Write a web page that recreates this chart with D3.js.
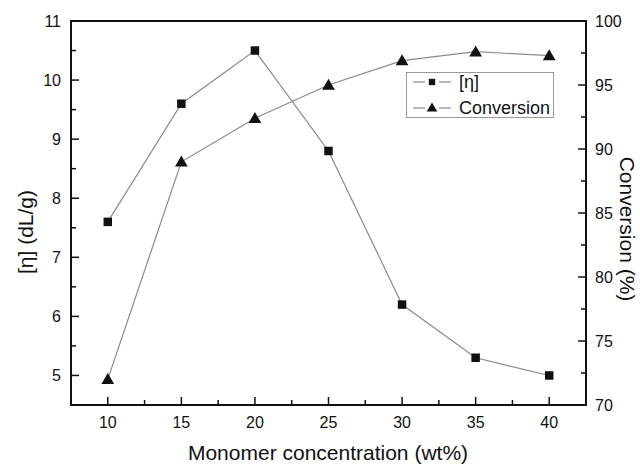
<!DOCTYPE html>
<html>
<head>
<meta charset="utf-8">
<script src="https://cdn.jsdelivr.net/npm/d3@7"></script>
<style>
  html, body { margin: 0; padding: 0; background: #fff; }
  svg { display: block; font-family: "Liberation Sans", Arial, sans-serif; }
</style>
</head>
<body>
<svg id="chart" width="640" height="464"></svg>
<script>
// Monomer concentration (wt%)
const concentrations = [10, 15, 20, 25, 30, 35, 40];
// Intrinsic viscosity [η] (dL/g)
const viscosity = [7.6, 9.6, 10.5, 8.8, 6.2, 5.3, 5.0];
// Conversion (%)
const conversion = [72.0, 89.0, 92.4, 95.0, 96.9, 97.6, 97.3];

const xTicks = [10, 15, 20, 25, 30, 35, 40];
const leftTicks = [5, 6, 7, 8, 9, 10, 11];
const rightTicks = [70, 75, 80, 85, 90, 95, 100];

const svg = d3.select("#chart");
const L = 71, R = 586, T = 21, B = 405;

const x = d3.scaleLinear().domain([7.5, 42.5]).range([L, R]);
const yL = d3.scaleLinear().domain([4.5, 11]).range([B, T]);
const yR = d3.scaleLinear().domain([70, 100]).range([B, T]);

const ink = "#111";
const lineGray = "#8a8a8a";

// ticks (inward), major + minor
const tickG = svg.append("g").attr("stroke", ink).attr("stroke-width", 1.5);
const xMinor = d3.range(12.5, 42.5, 5);
xTicks.forEach(v => tickG.append("line").attr("x1", x(v)).attr("x2", x(v)).attr("y1", B).attr("y2", B - 8));
xMinor.forEach(v => tickG.append("line").attr("x1", x(v)).attr("x2", x(v)).attr("y1", B).attr("y2", B - 5));
const lMinor = d3.range(5.5, 11, 1);
leftTicks.forEach(v => tickG.append("line").attr("x1", L).attr("x2", L + 8).attr("y1", yL(v)).attr("y2", yL(v)));
lMinor.forEach(v => tickG.append("line").attr("x1", L).attr("x2", L + 5).attr("y1", yL(v)).attr("y2", yL(v)));
const rMinor = d3.range(72.5, 100, 5);
rightTicks.forEach(v => tickG.append("line").attr("x1", R).attr("x2", R - 8).attr("y1", yR(v)).attr("y2", yR(v)));
rMinor.forEach(v => tickG.append("line").attr("x1", R).attr("x2", R - 5).attr("y1", yR(v)).attr("y2", yR(v)));

// frame
svg.append("rect").attr("x", L).attr("y", T).attr("width", R - L).attr("height", B - T)
  .attr("fill", "none").attr("stroke", ink).attr("stroke-width", 2);

// tick labels
const lab = svg.append("g").attr("fill", ink).attr("font-size", 16);
xTicks.forEach(v => lab.append("text").attr("x", x(v)).attr("y", 422).attr("text-anchor", "middle")
  .attr("dominant-baseline", "central").text(v));
leftTicks.forEach(v => lab.append("text").attr("x", 61).attr("y", yL(v)).attr("text-anchor", "end")
  .attr("dominant-baseline", "central").text(v));
rightTicks.forEach(v => lab.append("text").attr("x", 595).attr("y", yR(v)).attr("text-anchor", "start")
  .attr("dominant-baseline", "central").text(v));

// axis titles
svg.append("text").attr("x", 328).attr("y", 452).attr("text-anchor", "middle")
  .attr("dominant-baseline", "central").attr("font-size", 21).attr("fill", ink)
  .text("Monomer concentration (wt%)");
svg.append("text").attr("transform", "translate(25,232) rotate(-90)").attr("text-anchor", "middle")
  .attr("dominant-baseline", "central").attr("font-size", 21).attr("fill", ink)
  .text("[η] (dL/g)");
svg.append("text").attr("transform", "translate(627,229) rotate(90)").attr("text-anchor", "middle")
  .attr("dominant-baseline", "central").attr("font-size", 21).attr("fill", ink)
  .text("Conversion (%)");

// series
const sq = d3.symbol().type(d3.symbolSquare).size(72);
const tri = d3.symbol().type(d3.symbolTriangle).size(70);

const etaLine = d3.line().x((d, i) => x(concentrations[i])).y(d => yL(d));
const convLine = d3.line().x((d, i) => x(concentrations[i])).y(d => yR(d));

svg.append("path").datum(viscosity).attr("d", etaLine)
  .attr("fill", "none").attr("stroke", lineGray).attr("stroke-width", 1.2);
svg.append("path").datum(conversion).attr("d", convLine)
  .attr("fill", "none").attr("stroke", lineGray).attr("stroke-width", 1.2);

svg.append("g").selectAll("path").data(viscosity).join("path")
  .attr("d", sq).attr("fill", ink)
  .attr("transform", (d, i) => `translate(${x(concentrations[i])},${yL(d)})`);
svg.append("g").selectAll("path").data(conversion).join("path")
  .attr("d", tri).attr("fill", ink)
  .attr("transform", (d, i) => `translate(${x(concentrations[i])},${yR(d) + 1})`);

// legend
const lgSq = d3.symbol().type(d3.symbolSquare).size(40);
const lgTri = d3.symbol().type(d3.symbolTriangle).size(48);
const lg = svg.append("g");
lg.append("rect").attr("x", 406.5).attr("y", 72.5).attr("width", 147).attr("height", 45)
  .attr("fill", "#fff").attr("stroke", "#999").attr("stroke-width", 1);
const legendItems = [
  { label: "[η]", sym: lgSq, y: 82, dy: 0 },
  { label: "Conversion", sym: lgTri, y: 108, dy: 0.5 }
];
legendItems.forEach(it => {
  [[413, 425], [439, 451]].forEach(([a, b]) =>
    lg.append("line").attr("x1", a).attr("x2", b).attr("y1", it.y).attr("y2", it.y)
      .attr("stroke", lineGray).attr("stroke-width", 1.2));
  lg.append("path").attr("d", it.sym).attr("fill", ink)
    .attr("transform", `translate(432,${it.y + it.dy})`);
  lg.append("text").attr("x", 459).attr("y", it.y).attr("dominant-baseline", "central")
    .attr("font-size", 18).attr("fill", ink).text(it.label);
});
</script>
</body>
</html>
